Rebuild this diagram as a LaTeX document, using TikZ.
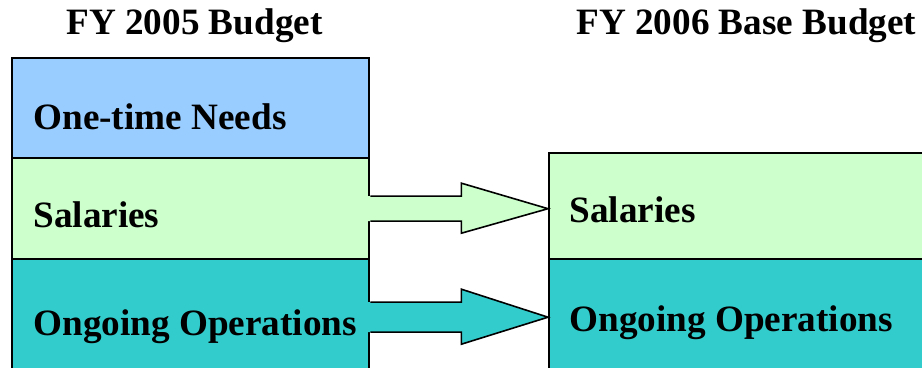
\documentclass[tikz,border=0pt]{standalone}
\usepackage{fontspec}
\setmainfont{Liberation Serif}
\usetikzlibrary{calc}
\definecolor{onetime}{HTML}{99CCFF}
\definecolor{salary}{HTML}{CCFFCC}
\definecolor{ongoing}{HTML}{33CCCC}
\begin{document}
\begin{tikzpicture}[x=0.5pt,y=-0.5pt,
  section/.style={draw=black, line width=1.2pt, rectangle, inner sep=0pt, anchor=north west},
  leftsec/.style={section, minimum width=178.5pt},
  rightsec/.style={section, minimum width=190pt},
  label/.style={font=\bfseries\fontsize{18.6}{20}\selectfont, anchor=base west, inner sep=0pt},
  flowline/.style={draw=black, line width=0.8pt, line join=miter}]
\useasboundingbox (0,0) rectangle (922,368);
\clip (0,0) rectangle (922,368);

% column headings
\node[label] (headL) at (66,35) {FY 2005 Budget};
\node[label] (headR) at (576,35) {FY 2006 Base Budget};

% FY 2005 stack
\node[leftsec, fill=onetime, minimum height=50pt]  (needsL) at (11,57)  {};
\node[leftsec, fill=salary,  minimum height=50.5pt] (salL)  at (11,157) {};
\node[leftsec, fill=ongoing, minimum height=58pt]  (opsL)   at (11,258) {};

% FY 2006 stack
\node[rightsec, fill=salary,  minimum height=53pt] (salR) at (548,152) {};
\node[rightsec, fill=ongoing, minimum height=58pt] (opsR) at (548,258) {};

% section labels
\node[label] (needsLt) at ($(needsL.north west)+(22,73)$) {One-time Needs};
\node[label] (salLt)   at ($(salL.north west)+(22,71)$)   {Salaries};
\node[label] (opsLt)   at ($(opsL.north west)+(22,78)$)   {Ongoing Operations};
\node[label] (salRt)   at ($(salR.north west)+(21,71)$)   {Salaries};
\node[label] (opsRt)   at ($(opsR.north west)+(21,74)$)   {Ongoing Operations};

% salaries carried forward (fill reaches into the box to hide its edge)
\coordinate (sTip) at (salR.west |- salL.east);
\fill[salary] ($(salL.east)+(-5,-12.5)$) -- ($(salL.east)+(91,-12.5)$) -- ($(salL.east)+(91,-25.5)$)
  -- (sTip) -- ($(salL.east)+(91,24.5)$) -- ($(salL.east)+(91,12.5)$) -- ($(salL.east)+(-5,12.5)$) -- cycle;
\draw[flowline] ($(salL.east)+(0,-12.5)$) -- ($(salL.east)+(91,-12.5)$) -- ($(salL.east)+(91,-25.5)$)
  -- (sTip) -- ($(salL.east)+(91,24.5)$) -- ($(salL.east)+(91,12.5)$) -- ($(salL.east)+(0,12.5)$);

% ongoing operations carried forward
\fill[ongoing] ($(opsL.east)+(-5,-15)$) -- ($(opsL.east)+(91,-15)$) -- ($(opsL.east)+(91,-28)$)
  -- (opsR.west) -- ($(opsL.east)+(91,27)$) -- ($(opsL.east)+(91,15)$) -- ($(opsL.east)+(-5,15)$) -- cycle;
\draw[flowline] ($(opsL.east)+(0,-15)$) -- ($(opsL.east)+(91,-15)$) -- ($(opsL.east)+(91,-28)$)
  -- (opsR.west) -- ($(opsL.east)+(91,27)$) -- ($(opsL.east)+(91,15)$) -- ($(opsL.east)+(0,15)$);
\end{tikzpicture}
\end{document}
